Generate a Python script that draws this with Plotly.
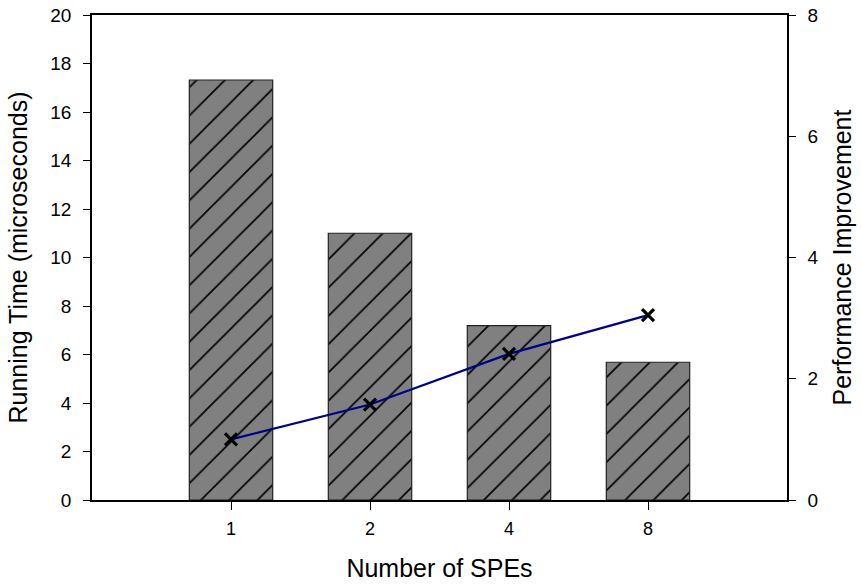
import plotly.graph_objects as go

categories = ["1", "2", "4", "8"]
running_time = [17.32, 11.0, 7.19, 5.68]
improvement = [1.0, 1.575, 2.41, 3.05]
y_ticks = [0, 2, 4, 6, 8, 10, 12, 14, 16, 18, 20]
y2_ticks = [0, 2, 4, 6, 8]

FONT = "Liberation Sans, Arial, sans-serif"

fig = go.Figure()
fig.add_trace(go.Bar(
    x=categories, y=running_time, width=0.6,
    marker=dict(color="#808080", line=dict(color="#222222", width=1.2),
                pattern=dict(shape="/", fgcolor="black", bgcolor="#808080",
                             size=20, solidity=0.08, fgopacity=1)),
    showlegend=False,
))
fig.add_trace(go.Scatter(
    x=categories, y=improvement, yaxis="y2", mode="lines+markers",
    line=dict(color="#00008B", width=2.2),
    marker=dict(symbol="x-thin-open", size=12, color="black",
                line=dict(color="black", width=3.2)),
    showlegend=False,
))

fig.update_layout(
    width=861, height=585,
    margin=dict(l=92, r=74, t=15, b=85),
    paper_bgcolor="white", plot_bgcolor="white",
    font=dict(family=FONT, color="black", size=19),
    xaxis=dict(type="category", range=[-1, 4], showline=True, linecolor="black",
               linewidth=2, mirror=True, ticks="outside", ticklen=8, tickwidth=1,
               tickcolor="black", showgrid=False, zeroline=False, automargin=False,
               tickfont=dict(size=18), ticklabelstandoff=3,
               title=dict(text="Number of SPEs", font=dict(size=25), standoff=22)),
    yaxis=dict(range=[0, 20], tickvals=y_ticks, showline=True, linecolor="black",
               linewidth=1.5, ticks="outside", ticklen=7, tickcolor="black",
               showgrid=False, zeroline=False, tickfont=dict(size=19), automargin=False,
               ticklabelstandoff=8,
               title=dict(text="Running Time (microseconds)", font=dict(size=25), standoff=16)),
    yaxis2=dict(range=[0, 8], tickvals=y2_ticks, overlaying="y", side="right",
                showline=True, linecolor="black", linewidth=1.5, ticks="outside",
                ticklen=7, tickcolor="black", showgrid=False, zeroline=False,
                tickfont=dict(size=19), automargin=False, ticklabelstandoff=8,
                title=dict(text="Performance Improvement", font=dict(size=25), standoff=16)),
)

fig.write_html("out.html", config={"displayModeBar": False},
               post_script="document.body.style.margin='0';")
